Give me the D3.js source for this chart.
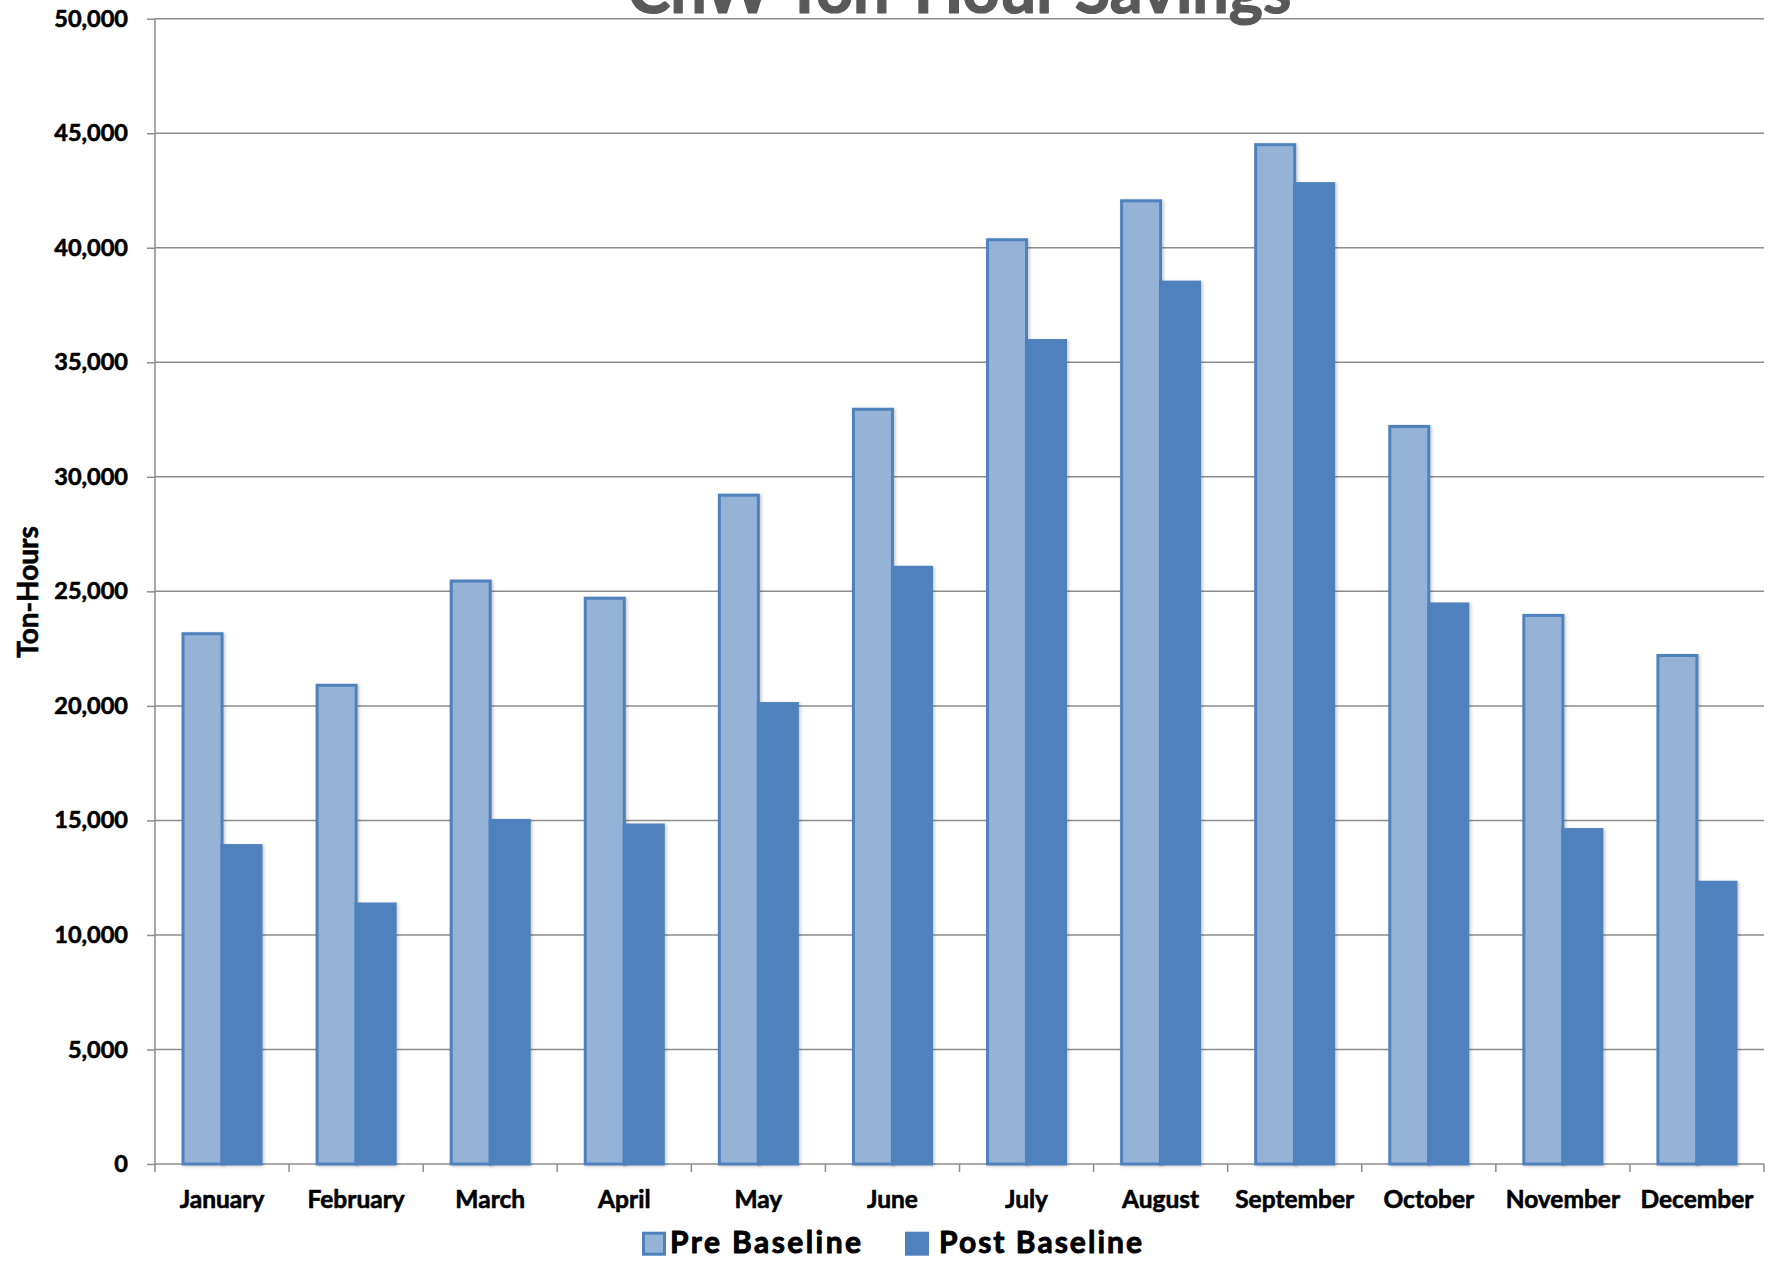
<!DOCTYPE html>
<html>
<head>
<meta charset="utf-8">
<script src="https://cdn.jsdelivr.net/npm/d3@7"></script>
<style>
  html, body { margin: 0; padding: 0; background: #fff; }
  svg { display: block; font-family: Lato, "Open Sans", sans-serif; }
  .heavy { paint-order: stroke; stroke-linejoin: round; }
</style>
</head>
<body>
<svg id="chart" width="1769" height="1261"></svg>
<script>
// Monthly chilled-water ton-hours, before and after the baseline change
const months = ["January", "February", "March", "April", "May", "June",
                "July", "August", "September", "October", "November", "December"];
const preBaseline  = [23150, 20900, 25450, 24700, 29200, 32950, 40350, 42050, 44500, 32200, 23950, 22200];
const postBaseline = [13900, 11350, 15000, 14800, 20100, 26050, 35950, 38500, 42800, 24450, 14600, 12300];
const seriesNames  = ["Pre Baseline", "Post Baseline"];
const yTicks = [0, 5000, 10000, 15000, 20000, 25000, 30000, 35000, 40000, 45000, 50000];

const colors = { "Pre Baseline": "#95B3D7", "Post Baseline": "#4F81BD" };
const strokeColor = "#4F81BD";

const svg = d3.select("#chart");
const plot = { left: 155, right: 1764, top: 18.7, bottom: 1164 };

const x = d3.scaleBand().domain(months).range([plot.left, plot.right])
  .paddingInner(0.418).paddingOuter(0.209);
const xSub = d3.scaleBand().domain(seriesNames).range([0, x.bandwidth()]);
const y = d3.scaleLinear().domain([0, 50000]).range([plot.bottom, plot.top]);

// soft shadow under the bars
const defs = svg.append("defs");
const f = defs.append("filter").attr("id", "shadow").attr("x", "-20%").attr("y", "-5%")
  .attr("width", "140%").attr("height", "110%");
f.append("feDropShadow").attr("dx", 1.5).attr("dy", 1).attr("stdDeviation", 1.6)
  .attr("flood-color", "#000").attr("flood-opacity", 0.22);

// horizontal gridlines
svg.append("g").selectAll("line").data(yTicks.filter(d => d > 0)).join("line")
  .attr("x1", plot.left).attr("x2", plot.right)
  .attr("y1", d => y(d)).attr("y2", d => y(d))
  .attr("stroke", "#8c8c8c").attr("stroke-width", 1.5);

// y axis
const yAxis = svg.append("g").attr("transform", `translate(${plot.left},0)`)
  .call(d3.axisLeft(y).tickValues(yTicks).tickSize(8).tickPadding(19).tickFormat(d3.format(",")));
yAxis.select(".domain").attr("stroke", "#8c8c8c").attr("stroke-width", 1.5)
  .attr("d", `M0,${plot.top}V${plot.bottom}`);
yAxis.selectAll(".tick line").attr("stroke", "#8c8c8c").attr("stroke-width", 1.5);
yAxis.selectAll(".tick text").attr("font-size", 23.5).attr("font-weight", 700)
  .attr("fill", "#000").attr("font-family", "Lato, sans-serif")
  .attr("class", "heavy").attr("stroke", "#000").attr("stroke-width", 0.6);

// x axis with ticks between categories
const xAxisG = svg.append("g");
xAxisG.append("line").attr("x1", plot.left).attr("x2", plot.right)
  .attr("y1", plot.bottom).attr("y2", plot.bottom)
  .attr("stroke", "#8c8c8c").attr("stroke-width", 1.5);
const boundaries = months.map(m => x(m) - x.step() * x.paddingInner() / 2);
boundaries.push(plot.right);
boundaries[0] = plot.left;
xAxisG.selectAll("line.tk").data(boundaries).join("line").attr("class", "tk")
  .attr("x1", d => d).attr("x2", d => d)
  .attr("y1", plot.bottom).attr("y2", plot.bottom + 8)
  .attr("stroke", "#8c8c8c").attr("stroke-width", 1.5);
xAxisG.selectAll("text").data(months).join("text")
  .attr("x", d => x(d) + x.bandwidth() / 2).attr("y", 1208)
  .attr("text-anchor", "middle").attr("font-size", 24.5).attr("font-weight", 700)
  .attr("class", "heavy").attr("stroke", "#000").attr("stroke-width", 0.6)
  .text(d => d);

// bars
const rows = months.map((m, i) => ({ month: m, values: [
  { key: "Pre Baseline", value: preBaseline[i] },
  { key: "Post Baseline", value: postBaseline[i] }] }));

svg.append("g").selectAll("g").data(rows).join("g")
  .attr("transform", d => `translate(${x(d.month)},0)`)
  .selectAll("rect").data(d => d.values).join("rect")
  .attr("x", d => xSub(d.key)).attr("width", xSub.bandwidth())
  .attr("y", d => y(d.value)).attr("height", d => y(0) - y(d.value))
  .attr("fill", d => colors[d.key]).attr("stroke", strokeColor).attr("stroke-width", 3)
  .attr("filter", "url(#shadow)");

// title (runs off the top edge)
const title = svg.append("text").attr("x", (plot.left + plot.right) / 2).attr("y", 13)
  .attr("text-anchor", "middle").attr("font-size", 56).attr("font-weight", 700)
  .attr("fill", "#595959").attr("class", "heavy").attr("stroke", "#595959").attr("stroke-width", 1.2)
  .text("ChW Ton-Hour Savings");
const tw = title.node().getComputedTextLength();
title.attr("font-size", 56 * 664 / tw);

// y axis title
svg.append("text").attr("transform", "translate(38,592) rotate(-90)")
  .attr("text-anchor", "middle").attr("font-size", 28).attr("font-weight", 700)
  .attr("class", "heavy").attr("stroke", "#000").attr("stroke-width", 0.6)
  .text("Ton-Hours");

// legend: swatch + label, label spaced out to its slot width
const legendItems = [
  { key: "Pre Baseline", sx: 642, tx: 670, w: 191 },
  { key: "Post Baseline", sx: 905, tx: 939, w: 203 }];
const lg = svg.append("g");
lg.selectAll("rect").data(legendItems).join("rect")
  .attr("x", d => d.sx + 1.5).attr("y", 1233.2).attr("width", 21).attr("height", 21)
  .attr("fill", d => colors[d.key]).attr("stroke", strokeColor).attr("stroke-width", 3);
lg.selectAll("text").data(legendItems).join("text")
  .attr("x", d => d.tx).attr("y", 1252.5)
  .attr("font-size", 30).attr("font-weight", 700)
  .attr("class", "heavy").attr("stroke", "#000").attr("stroke-width", 0.9)
  .text(d => d.key)
  .each(function(d) {
    const len = this.getComputedTextLength();
    const n = d.key.length - 1;
    d3.select(this).attr("letter-spacing", Math.max(0, (d.w - len) / n));
  });
</script>
</body>
</html>
